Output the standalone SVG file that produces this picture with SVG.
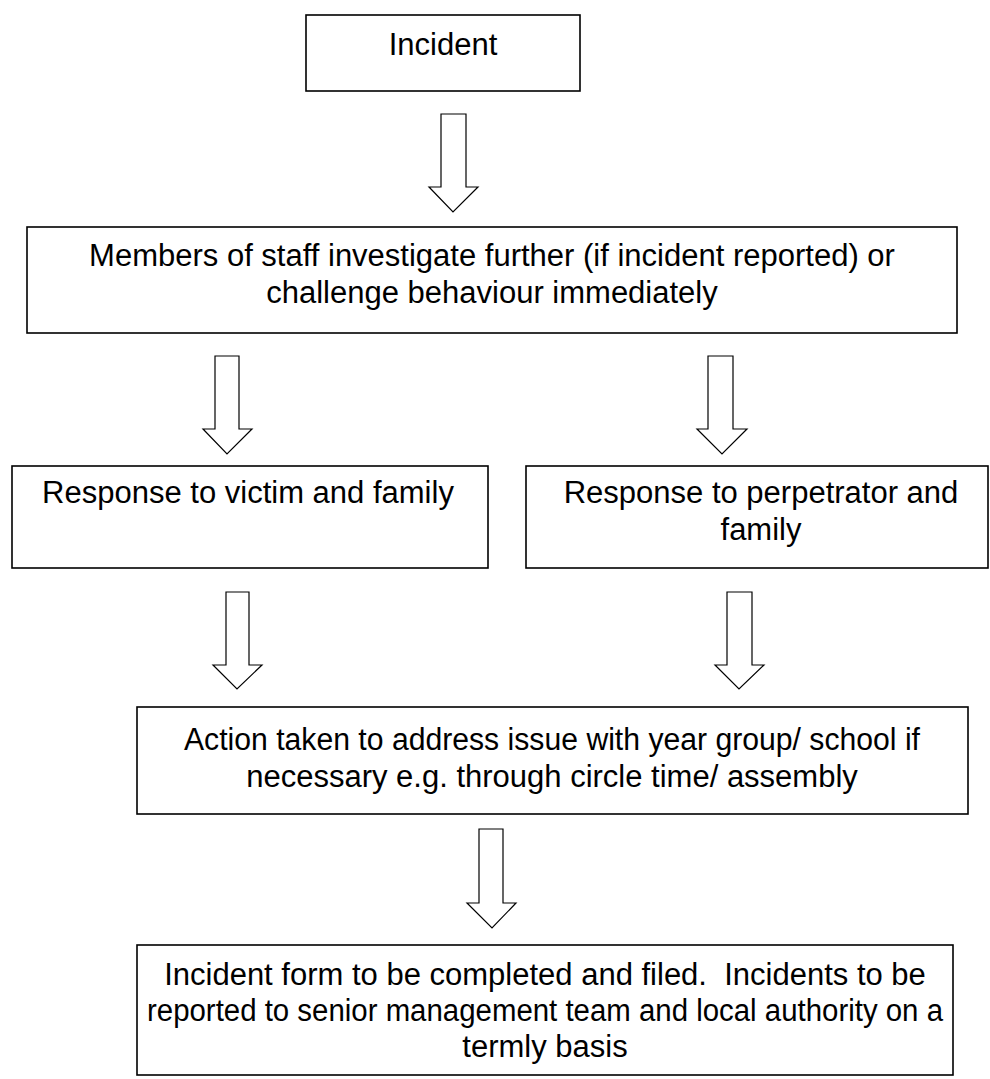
<svg xmlns="http://www.w3.org/2000/svg" width="990" height="1079" viewBox="0 0 990 1079">
<style>
.box{fill:#fff;stroke:#000;stroke-width:1.6}
.arr{fill:#fff;stroke:#000;stroke-width:1.2;stroke-linejoin:miter}
.t{font-family:"Liberation Sans",Arial,sans-serif;font-size:31px;fill:#000;text-anchor:middle;white-space:pre}
</style>
<rect width="990" height="1079" fill="#fff"/>
<g id="connectors">
<polygon class="arr" points="441,114 466,114 466,187 478,187 453,212 429,187 441,187"/>
<polygon class="arr" points="215,356 239,356 239,429 252,429 227,454 203,429 215,429"/>
<polygon class="arr" points="708,356 733,356 733,429 747,429 722,454 697,429 708,429"/>
<polygon class="arr" points="226,592 249,592 249,665 262,665 237,689 213,665 226,665"/>
<polygon class="arr" points="727,592 752,592 752,665 764,665 739,689 715,665 727,665"/>
<polygon class="arr" points="479,829 503,829 503,903 516,903 492,928 467,903 479,903"/>
</g>
<g id="n1"><rect class="box" x="306" y="15" width="274" height="76"/><text class="t" x="443" y="55">Incident</text></g>
<g id="n2"><rect class="box" x="27" y="227" width="930" height="106"/><text class="t" x="492" y="266">Members of staff investigate further (if incident reported) or</text><text class="t" x="492" y="303">challenge behaviour immediately</text></g>
<g id="n3"><rect class="box" x="12" y="466" width="476" height="102"/><text class="t" x="248" y="503">Response to victim and family</text></g>
<g id="n4"><rect class="box" x="526" y="466" width="462" height="102"/><text class="t" x="761" y="503">Response to perpetrator and</text><text class="t" x="761" y="540">family</text></g>
<g id="n5"><rect class="box" x="137" y="707" width="831" height="107"/><text class="t" x="552" y="750" textLength="736" lengthAdjust="spacingAndGlyphs">Action taken to address issue with year group/ school if</text><text class="t" x="552" y="787">necessary e.g. through circle time/ assembly</text></g>
<g id="n6"><rect class="box" x="137" y="945" width="816" height="130"/><text class="t" x="545" y="985">Incident form to be completed and filed.  Incidents to be</text><text class="t" x="545" y="1021" textLength="796" lengthAdjust="spacingAndGlyphs">reported to senior management team and local authority on a</text><text class="t" x="545" y="1057">termly basis</text></g>
</svg>
